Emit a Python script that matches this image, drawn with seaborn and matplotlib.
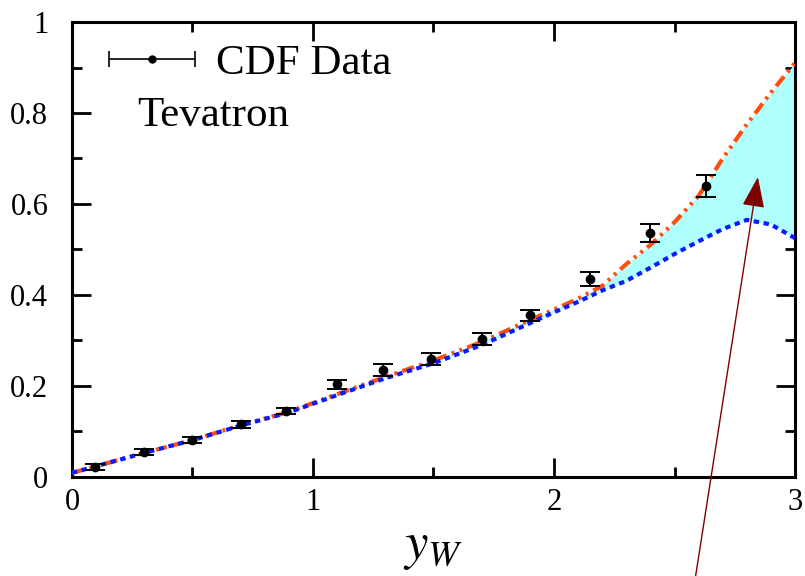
import numpy as np
import pandas as pd
import matplotlib
matplotlib.use("Agg")
import matplotlib.pyplot as plt
from matplotlib.ticker import MultipleLocator
from matplotlib.legend_handler import HandlerErrorbar
from matplotlib.container import ErrorbarContainer
import seaborn as sns

# CDF data points
data_y_w = [0.095, 0.30, 0.50, 0.70, 0.89, 1.10, 1.29, 1.49, 1.70, 1.90, 2.15, 2.40, 2.63]
data_asym = [0.022, 0.055, 0.081, 0.116, 0.145, 0.204, 0.235, 0.259, 0.303, 0.355, 0.435, 0.536, 0.640]
data_err = [0.006, 0.007, 0.007, 0.008, 0.007, 0.010, 0.014, 0.013, 0.014, 0.013, 0.016, 0.019, 0.024]

# theory curves
theory_y_w = [0.0, 0.3, 0.5, 0.7, 0.9, 1.1, 1.3, 1.5, 1.7, 1.9, 2.0, 2.1, 2.2,
              2.3, 2.4, 2.5, 2.6, 2.7, 2.8, 2.9, 3.0]
upper_curve = [0.009, 0.053, 0.081, 0.114, 0.143, 0.182, 0.220, 0.256, 0.297, 0.345,
               0.368, 0.392, 0.420, 0.468, 0.510, 0.560, 0.618, 0.700, 0.775, 0.845, 0.910]
lower_curve = [0.009, 0.053, 0.081, 0.113, 0.142, 0.180, 0.217, 0.250, 0.290, 0.338,
               0.362, 0.385, 0.410, 0.431, 0.460, 0.490, 0.518, 0.545, 0.565, 0.555, 0.525]

x_ticks = [0, 1, 2, 3]
x_tick_labels = ["0", "1", "2", "3"]
y_ticks = [0, 0.2, 0.4, 0.6, 0.8, 1.0]
y_tick_labels = ["0", "0.2", "0.4", "0.6", "0.8", "1"]

theory = pd.DataFrame({"y_w": theory_y_w, "upper": upper_curve, "lower": lower_curve})

sns.set_style("ticks")
plt.rcParams["font.family"] = ["Liberation Serif", "DejaVu Serif"]
plt.rcParams["mathtext.fontset"] = "stix"
plt.rcParams["text.color"] = "black"
plt.rcParams["axes.labelcolor"] = "black"

fig = plt.figure(figsize=(8.05, 5.76), dpi=100)
ax = fig.add_axes([0.0894, 0.1719, 0.8982, 0.7899])

ax.fill_between(theory["y_w"], theory["lower"], theory["upper"],
                color="#b0ffff", linewidth=0, zorder=1)
sns.lineplot(data=theory, x="y_w", y="upper", ax=ax, color="#ff4f0a",
             linewidth=3, zorder=3)
ax.lines[-1].set_dashes([3, 1.3, 0.7, 1.3, 0.7, 1.3])
sns.lineplot(data=theory, x="y_w", y="lower", ax=ax, color="#0a1aff",
             linewidth=3, zorder=3)
ax.lines[-1].set_dashes([1.3, 1.1])

ax.errorbar(data_y_w, data_asym, yerr=data_err, fmt="o", color="black",
            markersize=6, capsize=7, elinewidth=1.4, capthick=1.4, zorder=4)

# legend entry: horizontal error bar
leg_handle = ax.errorbar([np.nan], [np.nan], xerr=[1], fmt="o", color="black",
                         markersize=5, capsize=6, elinewidth=1.2, capthick=1.2)
ax.legend([leg_handle], ["CDF Data"], loc="upper left", frameon=False,
          fontsize=31, handlelength=2.0, handletextpad=0.5,
          borderaxespad=0.1, bbox_to_anchor=(0.021, 1.0),
          labelcolor="black",
          handler_map={ErrorbarContainer: HandlerErrorbar(xerr_size=1.0)})
ax.text(0.09, 0.795, "Tevatron", transform=ax.transAxes, fontsize=31,
        va="center", ha="left", color="black")

ax.set_xlim(0, 3)
ax.set_ylim(0, 1)
ax.set_xticks(x_ticks)
ax.set_xticklabels(x_tick_labels)
ax.set_yticks(y_ticks)
ax.set_yticklabels(y_tick_labels)
ax.xaxis.set_minor_locator(MultipleLocator(0.5))
ax.yaxis.set_minor_locator(MultipleLocator(0.1))
ax.tick_params(which="both", direction="in", top=True, right=True,
               width=2, labelsize=22, colors="black")
ax.tick_params(which="major", length=14)
ax.tick_params(which="minor", length=7)
ax.tick_params(axis="x", which="major", pad=8)
ax.tick_params(axis="y", which="major", pad=17)
for sp in ax.spines.values():
    sp.set_linewidth(2.2)
    sp.set_color("black")

ax.set_xlabel(r"$y_W$", fontsize=38, labelpad=5, color="black")
ax.set_ylabel("")

# arrow from below the figure up into the band
ax.annotate("", xy=(2.846, 0.659), xycoords="data",
            xytext=(0.863, -0.01), textcoords="figure fraction",
            arrowprops=dict(arrowstyle="-|>,head_length=1.9,head_width=0.7",
                            color="#800000", linewidth=1.0,
                            shrinkA=0, shrinkB=0),
            annotation_clip=False, zorder=5)

fig.savefig("out.png", dpi=100)
